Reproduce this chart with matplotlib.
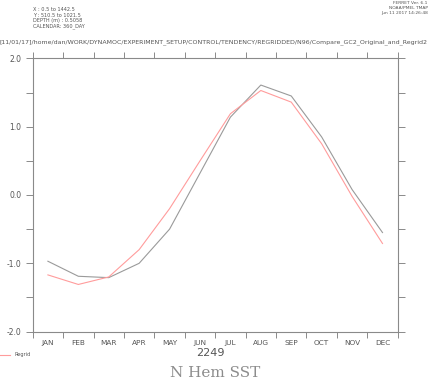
import matplotlib.pyplot as plt
import numpy as np

# ---------------- data ----------------

months = ["JAN", "FEB", "MAR", "APR", "MAY", "JUN",
          "JUL", "AUG", "SEP", "OCT", "NOV", "DEC"]
original = [-0.97, -1.19, -1.21, -1.00, -0.50, 0.32,
            1.14, 1.61, 1.45, 0.85, 0.08, -0.55]
regrid = [-1.17, -1.31, -1.20, -0.80, -0.20, 0.50,
          1.19, 1.53, 1.36, 0.75, -0.02, -0.71]
ytick_major = [-2.0, -1.0, 0.0, 1.0, 2.0]

header_left = ["X : 0.5 to 1442.5", "Y : 510.5 to 1021.5",
               "DEPTH (m) : 0.5058", "CALENDAR: 360_DAY"]
header_right = ["FERRET Ver. 6.1", "NOAA/PMEL TMAP", "Jun 11 2017 14:26:48"]
path_label = ("[11/01/17]/home/dan/WORK/DYNAMOC/EXPERIMENT_SETUP/CONTROL/"
              "TENDENCY/REGRIDDED/N96/Compare_GC2_Original_and_Regrid2")

axis_col = "#8a8a8a"
text_col = "#555555"

# ---------------- figure ----------------

fig = plt.figure(figsize=(4.33, 3.80), dpi=100)
ax = fig.add_axes([0.0755, 0.1274, 0.843, 0.7189])

x = np.arange(len(months)) + 0.5
ax.plot(x, original, color="#9a9a9a", lw=0.8)
ax.plot(x, regrid, color="#ff9c9c", lw=0.8)

ax.set_xlim(0, 12)
ax.set_ylim(-2.0, 2.0)

ax.set_xticks(np.arange(0, 13))
ax.set_xticklabels([])
ax.set_xticks(x, minor=True)
ax.set_xticklabels(months, minor=True, fontsize=5.3, color=text_col)
ax.tick_params(axis="x", which="minor", length=0, pad=6)
ax.tick_params(axis="x", which="major", direction="out", length=4,
               top=True, color=axis_col, width=0.7)

ax.set_yticks(ytick_major)
ax.set_yticklabels(["%.1f" % v for v in ytick_major], fontsize=5.5, color=text_col)
ax.set_yticks(np.arange(-1.5, 2.0, 1.0), minor=True)
ax.tick_params(axis="y", which="both", direction="out", length=5,
               right=True, color=axis_col, width=0.7, pad=3)

for s in ax.spines.values():
    s.set_color(axis_col)
    s.set_linewidth(0.8)

# ---------------- texts ----------------

for i, t in enumerate(header_left):
    fig.text(0.076, 0.975 - i * 0.0145, t, fontsize=3.6, color=text_col, va="center")
for i, t in enumerate(header_right):
    fig.text(0.988, 0.992 - i * 0.0125, t, fontsize=3.2, color=text_col,
             va="center", ha="right")
fig.text(0.0, 0.888, path_label, fontsize=4.5, color=text_col, va="center")

fig.text(0.487, 0.070, "2249", fontsize=8, color=text_col, ha="center", va="center")
fig.text(0.497, 0.018, "N Hem SST", fontsize=11, color="#8c8c8c",
         family="DejaVu Serif", ha="center", va="center")

fig.lines.append(plt.Line2D([0.0, 0.023], [0.066, 0.066], color="#ff9c9c",
                            lw=0.8, transform=fig.transFigure))
fig.text(0.034, 0.066, "Regrid", fontsize=3.6, color=text_col, va="center")

fig.savefig("out.png", dpi=100)
